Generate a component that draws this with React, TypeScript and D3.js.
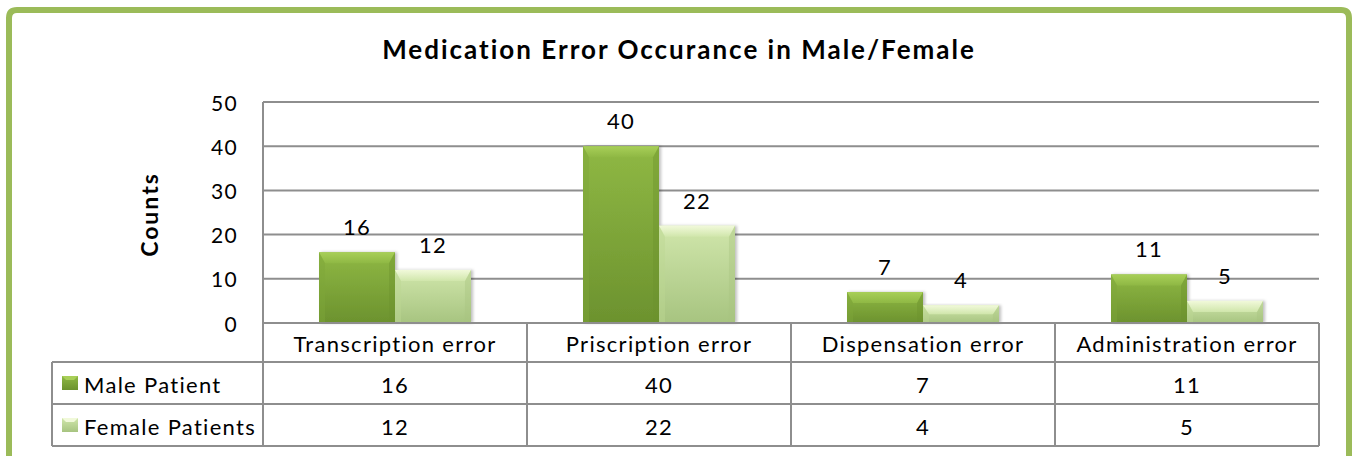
import React from "react";
import * as d3 from "d3";

// chart data
const categories = ["Transcription error", "Priscription error", "Dispensation error", "Administration error"];
const seriesNames = ["Male Patient", "Female Patients"];
const maleValues = [16, 40, 7, 11];
const femaleValues = [12, 22, 4, 5];
const yTicks = [0, 10, 20, 30, 40, 50];

const W = 1357;
const H = 456;
const FONT = "Lato, 'Liberation Sans', sans-serif";
const LS = 1.3;

const plot = { left: 263, right: 1319, top: 102, bottom: 323 };
const rowTops = [323, 362, 404, 446];
const legendLeft = 52;

const palettes = [
  { top: "#8fb844", bottom: "#6c922e", bevel: "#a8cf58", side: "#7ea63a", key: "male" },
  { top: "#d0e6ab", bottom: "#a7c480", bevel: "#f1f9da", side: "#bcd792", key: "female" },
];

export default function App() {
  const values = [maleValues, femaleValues];

  const x0 = d3.scaleBand<string>().domain(categories).range([plot.left, plot.right]).padding(0);
  const x1 = d3
    .scaleBand<string>()
    .domain(seriesNames)
    .range([0, x0.bandwidth()])
    .paddingInner(0)
    .paddingOuter(0.737);
  const y = d3.scaleLinear().domain([0, 50]).range([plot.bottom, plot.top]);

  const bw = x1.bandwidth();
  const bevel = 11;
  const sideB = 6;

  return (
    <svg
      width={W}
      height={H}
      style={{ position: "absolute", left: 0, top: 0, fontVariantLigatures: "none" }}
      fontFamily={FONT}
    >
      <defs>
        {palettes.map((p) => (
          <linearGradient key={p.key} id={"g-" + p.key} x1="0" y1="0" x2="0" y2="1">
            <stop offset="0%" stopColor={p.top} />
            <stop offset="100%" stopColor={p.bottom} />
          </linearGradient>
        ))}
        {palettes.map((p) => (
          <linearGradient key={p.key} id={"b-" + p.key} x1="0" y1="0" x2="0" y2="1">
            <stop offset="0%" stopColor={p.bevel} />
            <stop offset="100%" stopColor={p.top} />
          </linearGradient>
        ))}
        <filter id="shadow" x="-10%" y="-10%" width="130%" height="130%">
          <feDropShadow dx="2" dy="0" stdDeviation="1.5" floodColor="#000" floodOpacity="0.25" />
        </filter>
      </defs>

      <rect x={0} y={0} width={W} height={H} fill="#fff" />
      {/* outer green frame, bottom runs off the picture */}
      <path
        d={`M9,${H + 10} L9,18 Q9,10 17,10 L1341,10 Q1349,10 1349,18 L1349,${H + 10}`}
        fill="none"
        stroke="#9bbb59"
        strokeWidth={6}
      />

      <text x={679} y={59} textAnchor="middle" fontSize={26} fontWeight="bold" letterSpacing={2} fill="#000">
        Medication Error Occurance in Male/Female
      </text>

      <text
        transform={`translate(158,${(plot.top + plot.bottom) / 2 + 2}) rotate(-90)`}
        textAnchor="middle"
        fontSize={23}
        fontWeight="bold"
        letterSpacing={2}
      >
        Counts
      </text>

      {/* grid */}
      {yTicks.map((t) => (
        <g key={t}>
          <line x1={plot.left} x2={plot.right} y1={y(t)} y2={y(t)} stroke="#8e8e8e" strokeWidth={2} />
          <text x={238} y={y(t)} textAnchor="end" dominantBaseline="central" fontSize={21} letterSpacing={LS}>
            {t}
          </text>
        </g>
      ))}

      {/* bars */}
      {categories.map((c, ci) => (
        <g key={c} transform={`translate(${x0(c)},0)`}>
          {seriesNames.map((s, si) => {
            const v = values[si][ci];
            const bx = x1(s) as number;
            const by = y(v);
            const bh = plot.bottom - by;
            const p = palettes[si];
            const tb = Math.min(bevel, bh / 2);
            return (
              <g key={s}>
                <rect x={bx} y={by} width={bw} height={bh} fill={`url(#g-${p.key})`} filter="url(#shadow)" />
                <polygon
                  points={`${bx},${by} ${bx + bw},${by} ${bx + bw - sideB},${by + tb} ${bx + sideB},${by + tb}`}
                  fill={`url(#b-${p.key})`}
                />
                <polygon
                  points={`${bx},${by} ${bx + sideB},${by + tb} ${bx + sideB},${plot.bottom} ${bx},${plot.bottom}`}
                  fill={p.side}
                  opacity={0.45}
                />
                <polygon
                  points={`${bx + bw},${by} ${bx + bw - sideB},${by + tb} ${bx + bw - sideB},${plot.bottom} ${bx + bw},${plot.bottom}`}
                  fill={p.bottom}
                  opacity={0.4}
                />
                <text x={bx + bw / 2} y={by - 17} textAnchor="middle" fontSize={22} letterSpacing={LS}>
                  {v}
                </text>
              </g>
            );
          })}
        </g>
      ))}

      {/* data table */}
      <g stroke="#8e8e8e" strokeWidth={2} fill="none">
        <line x1={plot.left} x2={plot.right} y1={rowTops[0]} y2={rowTops[0]} />
        {rowTops.slice(1).map((r) => (
          <line key={r} x1={legendLeft} x2={plot.right} y1={r} y2={r} />
        ))}
        <line x1={legendLeft} x2={legendLeft} y1={rowTops[1]} y2={rowTops[3]} />
        <line x1={plot.left} x2={plot.left} y1={plot.top} y2={rowTops[3]} />
        {categories.map((c) => (
          <line key={c} x1={(x0(c) as number) + x0.bandwidth()} x2={(x0(c) as number) + x0.bandwidth()} y1={rowTops[0]} y2={rowTops[3]} />
        ))}
      </g>
      {categories.map((c) => (
        <text
          key={c}
          x={(x0(c) as number) + x0.bandwidth() / 2}
          y={(rowTops[0] + rowTops[1]) / 2 + 1}
          textAnchor="middle"
          dominantBaseline="central"
          fontSize={22}
          letterSpacing={LS}
        >
          {c}
        </text>
      ))}
      {seriesNames.map((s, si) => {
        const cy = (rowTops[si + 1] + rowTops[si + 2]) / 2;
        const p = palettes[si];
        return (
          <g key={s}>
            <rect x={62} y={cy - 7} width={16} height={14} fill={`url(#g-${p.key})`} />
            <polygon points={`62,${cy - 7} 78,${cy - 7} 74,${cy - 3} 66,${cy - 3}`} fill={p.bevel} />
            <text x={84} y={cy + 1} dominantBaseline="central" fontSize={22} letterSpacing={LS}>
              {s}
            </text>
            {categories.map((c, ci) => (
              <text
                key={c}
                x={(x0(c) as number) + x0.bandwidth() / 2}
                y={cy + 1}
                textAnchor="middle"
                dominantBaseline="central"
                fontSize={22}
                letterSpacing={LS}
              >
                {values[si][ci]}
              </text>
            ))}
          </g>
        );
      })}
    </svg>
  );
}
